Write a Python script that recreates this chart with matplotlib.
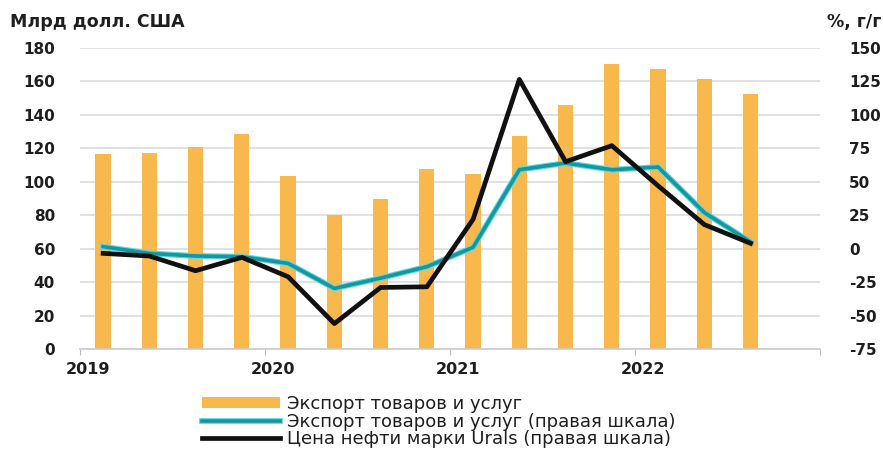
import numpy as np
import matplotlib.pyplot as plt
import matplotlib.patheffects as pe
import matplotlib.transforms as mtrans

plt.rcParams['font.family'] = ['DejaVu Sans']
plt.rcParams['axes.unicode_minus'] = False

# quarterly data 2019Q1 .. 2022Q3
export_bn = [116.5, 117.3, 120.9, 128.4, 103.3, 80.4, 89.8, 107.9,
             104.6, 127.5, 146.0, 170.3, 167.7, 161.7, 152.4]
export_yoy = [1.5, -3.5, -5.5, -6.0, -11.0, -29.7, -22.0, -13.5,
              1.0, 59.0, 64.0, 59.0, 61.0, 27.0, 5.0]
urals_yoy = [-3.5, -5.5, -16.5, -6.5, -21.0, -56.0, -29.0, -28.5,
             22.0, 126.5, 65.0, 77.0, 47.0, 18.0, 4.0]
years = ['2019', '2020', '2021', '2022']

bar_col = '#F9B84B'
teal = '#14979F'
txt = '#1E1E1E'

x = np.arange(len(export_bn))

fig = plt.figure(figsize=(8.83, 4.5), dpi=100)
ax1 = fig.add_axes([0.0906, 0.2244, 0.838, 0.669])
ax2 = ax1.twinx()

ax1.set_ylim(0, 180)
ax1.set_yticks(np.arange(0, 181, 20))
ax2.set_ylim(-75, 150)
ax2.set_yticks(np.arange(-75, 151, 25))
ax1.set_xlim(-0.5, 15.5)

ax1.grid(axis='y', color='#DCDCDC', lw=1.2)
ax1.set_axisbelow(True)

bars = ax1.bar(x, export_bn, width=0.33, color=bar_col, zorder=2,
               label='Экспорт товаров и услуг')
l1, = ax2.plot(x, export_yoy, color=teal, lw=2.6, zorder=3,
               path_effects=[pe.Stroke(linewidth=4.2, foreground='#5FD8E2'), pe.Normal()],
               label='Экспорт товаров и услуг (правая шкала)')
l2, = ax2.plot(x, urals_yoy, color='#111111', lw=3.4, zorder=4,
               label='Цена нефти марки Urals (правая шкала)')

ticks = [-0.5, 3.5, 7.5, 11.5, 15.5]
ax1.set_xticks(ticks)
ax1.set_xticklabels(years + [''])
ax1.tick_params(axis='x', length=4, color='#BBBBBB', pad=5, labelsize=11.5)
shift = mtrans.ScaledTranslation(8 / 100, 0, fig.dpi_scale_trans)
for lab in ax1.get_xticklabels():
    lab.set_fontweight('bold')
    lab.set_color(txt)
    lab.set_transform(lab.get_transform() + shift)

ax1.tick_params(axis='y', length=0, pad=18, labelsize=11, labelcolor=txt)
ax2.tick_params(axis='y', length=0, pad=21, labelsize=11, labelcolor=txt)
for lab in ax1.get_yticklabels() + ax2.get_yticklabels():
    lab.set_fontweight('bold')

for a in (ax1, ax2):
    for s in ['top', 'left', 'right']:
        a.spines[s].set_visible(False)
    a.spines['bottom'].set_color('#CCCCCC')
    a.spines['bottom'].set_linewidth(1.2)
ax2.spines['bottom'].set_visible(False)

fig.text(0.011, 0.951, 'Млрд долл. США', fontsize=12.5, fontweight='bold', color=txt, va='center')
fig.text(0.998, 0.951, '%, г/г', fontsize=12.5, fontweight='bold', color=txt, ha='right', va='center')

fig.legend(handles=[bars, l1, l2], loc='upper left', bbox_to_anchor=(0.221, 0.138),
           frameon=False, fontsize=13, handlelength=4.3, handleheight=0.6,
           labelspacing=-0.02, borderaxespad=0, handletextpad=0.4, labelcolor=txt)

fig.savefig('out.png', dpi=100)
